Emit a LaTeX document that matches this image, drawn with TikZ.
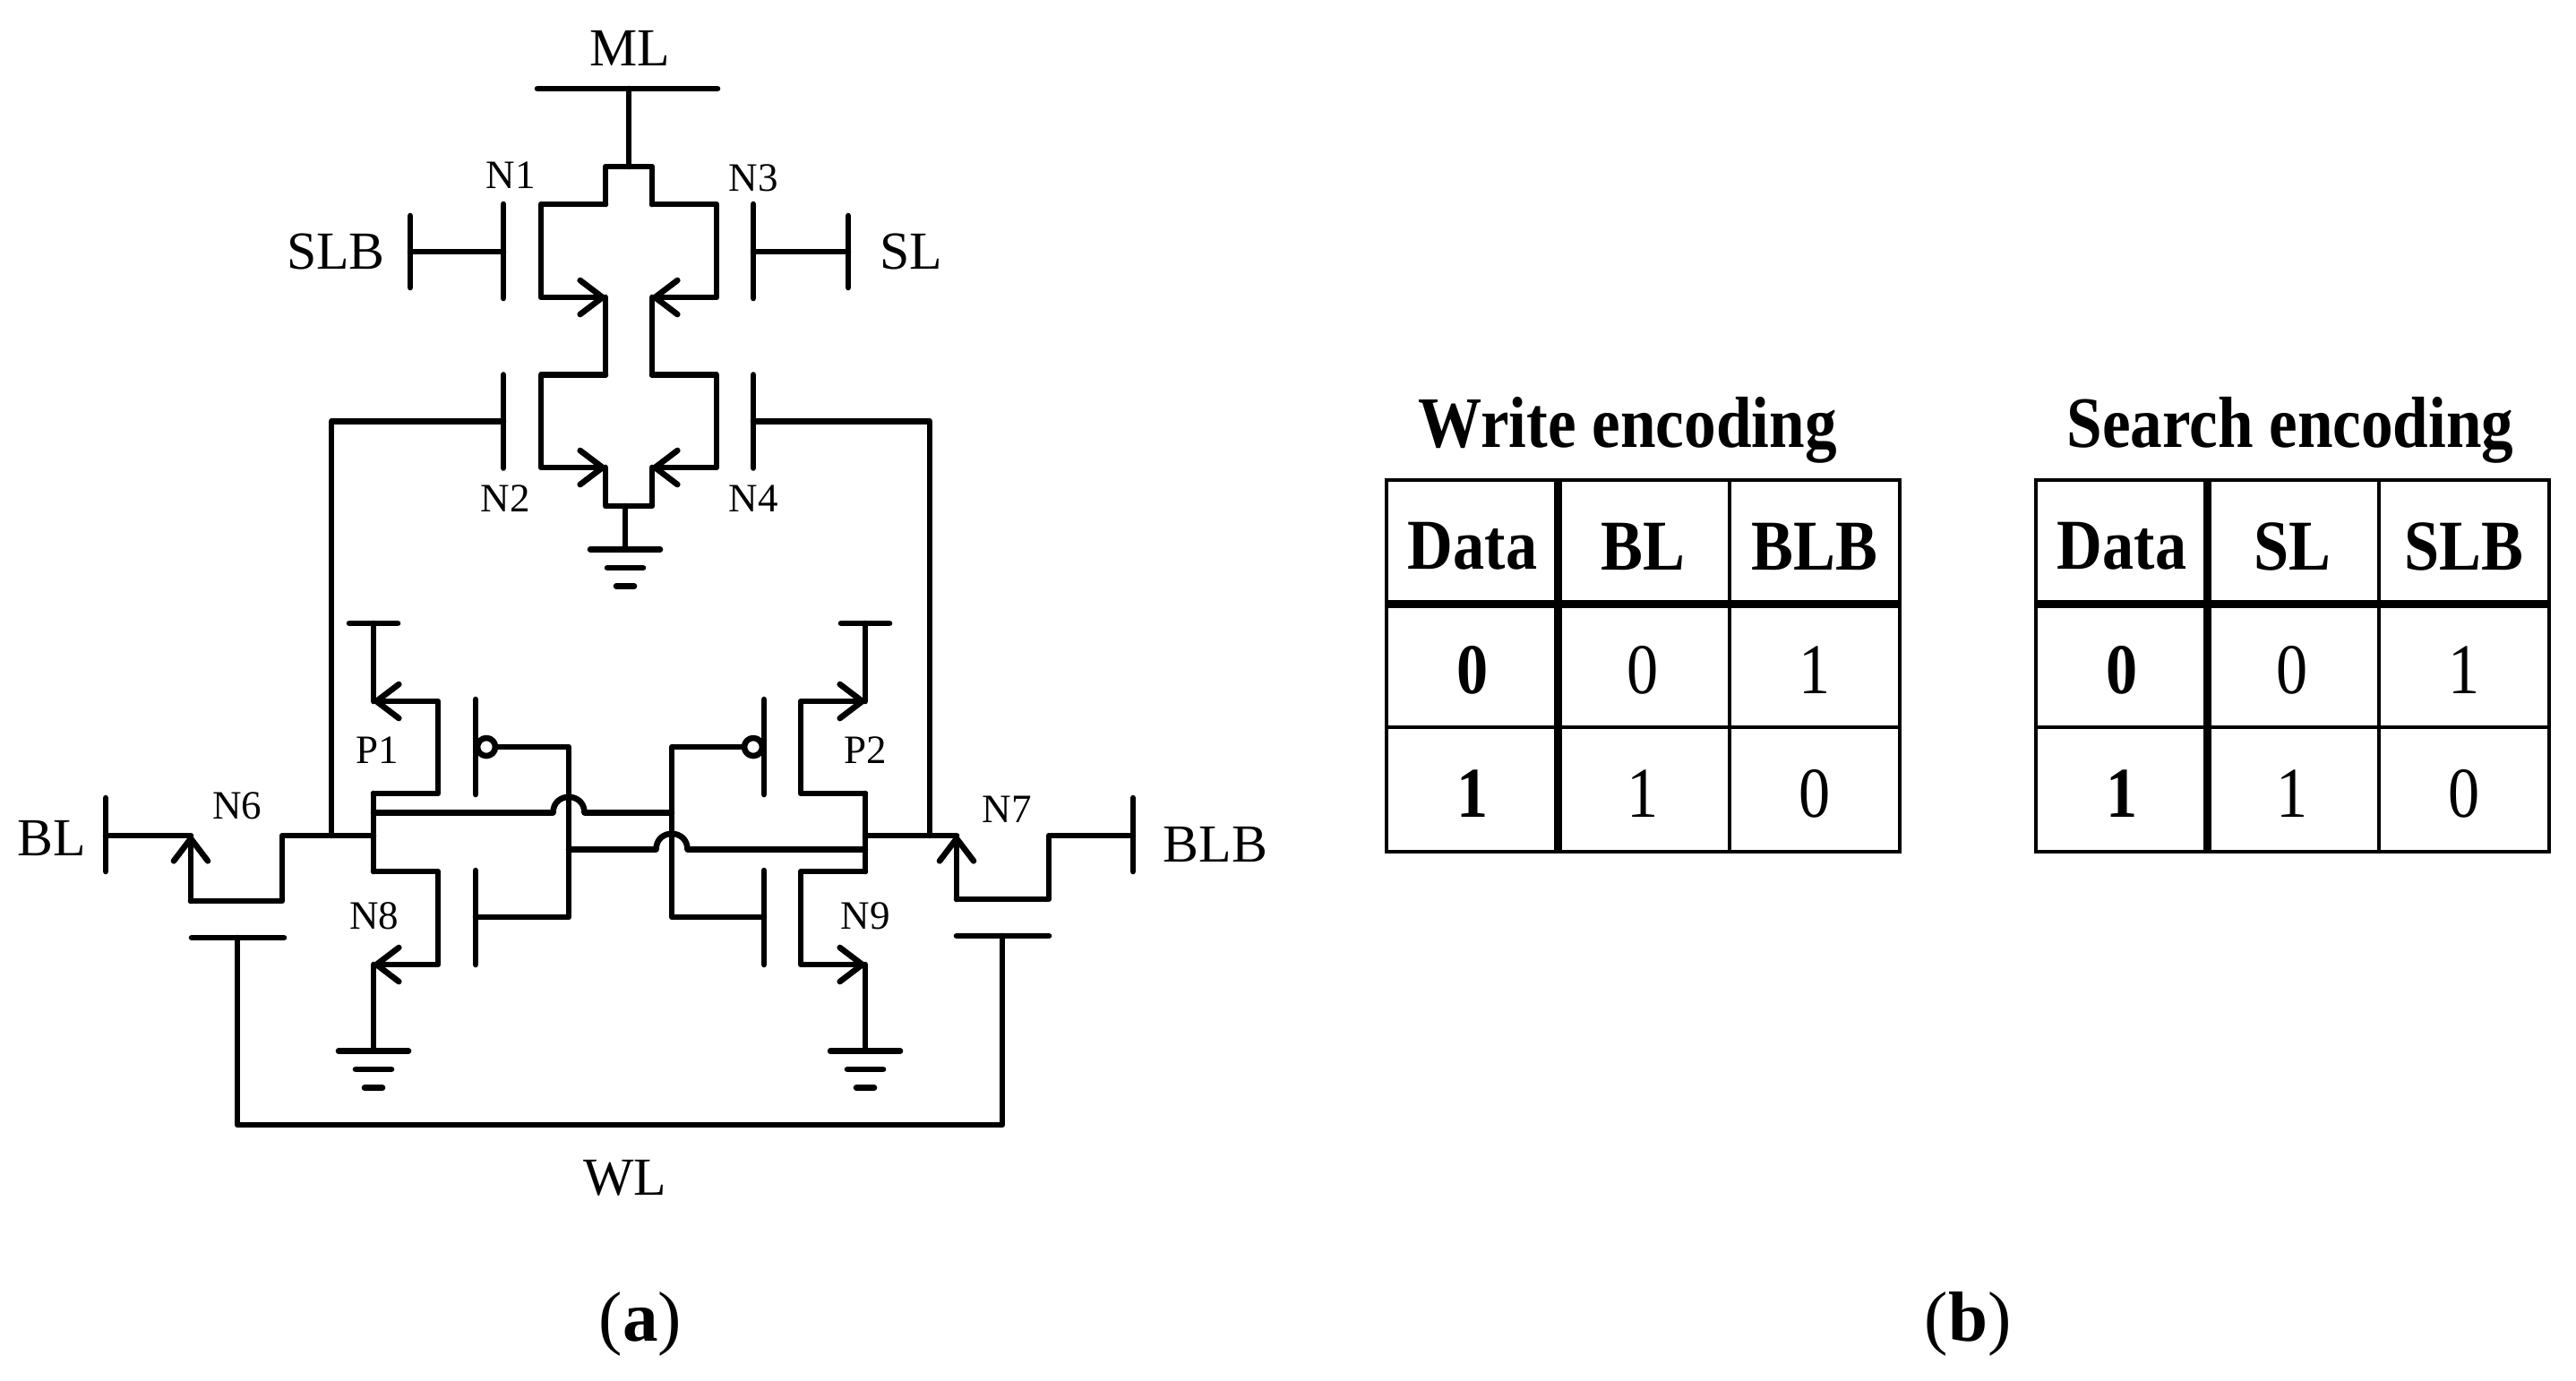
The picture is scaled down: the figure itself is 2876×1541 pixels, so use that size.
\documentclass[tikz,border=0pt]{standalone}
\usepackage{fontspec}
\setmainfont{Liberation Serif}
\newfontfamily\tabfont[FakeStretch=.88]{Liberation Serif}
\usetikzlibrary{arrows.meta}

\tikzset{
    wire/.style={line width=.066cm, line cap=round, line join=round},
    barb/.style={wire, -{Straight Barb[round, length=.25cm, width=.38cm, line width=.066cm]}},
    signal/.style={inner sep=0, font=\fontsize{17}{20}\selectfont},
    fetname/.style={inner sep=0, font=\fontsize{12.8}{15}\selectfont},
    caption/.style={inner sep=0, font=\fontsize{22.5}{26}\selectfont},
    tabtitle/.style={inner sep=0, anchor=base, font=\fontsize{23}{27}\selectfont\tabfont\bfseries},
    cell/.style={inner sep=0, font=\fontsize{22.7}{27}\selectfont\tabfont},
    boldcell/.style={inner sep=0, font=\fontsize{22.7}{27}\selectfont\tabfont\bfseries},
    rule/.style={line width=.045cm},
    boldrule/.style={line width=.09cm},
    bubble/.style={wire, draw, circle, inner sep=0, minimum size=.2cm},
    gnd/.pic={
        \draw[wire] (-39, 0) -- (39, 0);
        \draw[wire] (-20, 20.5) -- (20, 20.5);
        \draw[wire] (-10, 41) -- (10, 41);
    }
}

\begin{document}
\begin{tikzpicture}[x=.01cm, y=-.01cm]
    \useasboundingbox (0, 0) rectangle (2876, 1541);

    % search stack
    \path (703, 54) node[signal](ML){ML};
    \path (375, 281) node[signal](SLB){SLB};
    \path (1017, 281) node[signal](SL){SL};
    \path (570, 196) node[fetname](N1){N1};
    \path (841, 199) node[fetname](N3){N3};
    \path (564, 557) node[fetname](N2){N2};
    \path (841, 557) node[fetname](N4){N4};

    \coordinate (mlL) at (600, 99);
    \coordinate (mlR) at (801, 99);
    \coordinate (mlM) at (702, 99);
    \coordinate (mlT) at (702, 186);
    \coordinate (n1d) at (676, 228);
    \coordinate (n3d) at (728, 228);
    \coordinate (n1s) at (676, 332);
    \coordinate (n3s) at (728, 332);
    \coordinate (n2d) at (676, 418.5);
    \coordinate (n4d) at (728, 418.5);
    \coordinate (n2s) at (676, 522);
    \coordinate (n4s) at (728, 522);
    \coordinate (n1g) at (562, 281);
    \coordinate (n3g) at (841, 281);
    \coordinate (n2g) at (562, 470.5);
    \coordinate (n4g) at (841, 470.5);
    \coordinate (slbBar) at (458, 281);
    \coordinate (slBar) at (947, 281);
    \coordinate (stackG) at (698, 565);
    \coordinate (stackE) at (698, 613.5);

    \draw[wire] (mlL) -- (mlR);
    \draw[wire] (mlM) -- (mlT);
    \draw[wire] (n1d) |- (mlT) -| (n3d);
    \draw[barb] (n1d) -- ++(-72, 0) -- ++(0, 104) -- (n1s);
    \draw[barb] (n3d) -- ++(72, 0) -- ++(0, 104) -- (n3s);
    \draw[wire] (n1s) -- (n2d);
    \draw[wire] (n3s) -- (n4d);
    \draw[barb] (n2d) -- ++(-72, 0) -- ++(0, 103.5) -- (n2s);
    \draw[barb] (n4d) -- ++(72, 0) -- ++(0, 103.5) -- (n4s);
    \draw[wire] (n2s) |- (stackG) -| (n4s);
    \draw[wire] (stackG) -- (stackE);
    \path (stackE) pic {gnd};

    \draw[wire] (n1g) ++(0, -53) -- ++(0, 105);
    \draw[wire] (n3g) ++(0, -53) -- ++(0, 105);
    \draw[wire] (n2g) ++(0, -52) -- ++(0, 104);
    \draw[wire] (n4g) ++(0, -52) -- ++(0, 104);
    \draw[wire] (slbBar) ++(0, -40) -- ++(0, 80);
    \draw[wire] (slBar) ++(0, -40) -- ++(0, 80);
    \draw[wire] (slbBar) -- (n1g);
    \draw[wire] (slBar) -- (n3g);

    % latch
    \path (421, 838) node[fetname](P1){P1};
    \path (966, 838) node[fetname](P2){P2};
    \path (418, 1023) node[fetname](N8){N8};
    \path (966, 1023) node[fetname](N9){N9};
    \path (265, 900) node[fetname](N6){N6};
    \path (1124, 904) node[fetname](N7){N7};
    \path (58, 936) node[signal](BL){BL};
    \path (1357, 943) node[signal](BLB){BLB};
    \path (698, 1315) node[signal](WL){WL};

    \coordinate (vddL) at (417, 696);
    \coordinate (vddR) at (966, 696);
    \coordinate (p1s) at (417, 783);
    \coordinate (p2s) at (966, 783);
    \coordinate (qL) at (417, 886);
    \coordinate (qR) at (966, 886);
    \coordinate (n8d) at (417, 973);
    \coordinate (n9d) at (966, 973);
    \coordinate (n8s) at (417, 1077);
    \coordinate (n9s) at (966, 1077);
    \coordinate (gndL) at (417, 1173.5);
    \coordinate (gndR) at (966, 1173.5);
    \coordinate (nodeL) at (417, 933);
    \coordinate (nodeR) at (966, 933);
    \coordinate (blL) at (370, 933);
    \coordinate (blR) at (1038, 933);
    \coordinate (p1g) at (531, 834);
    \coordinate (p2g) at (853, 834);
    \coordinate (n8g) at (531, 1024);
    \coordinate (n9g) at (853, 1024);
    \coordinate (gateL) at (635, 834);
    \coordinate (gateR) at (750, 834);
    \coordinate (gateLb) at (635, 1024);
    \coordinate (gateRb) at (750, 1024);
    \path (543, 834) node[bubble](p1b){};
    \path (841, 834) node[bubble](p2b){};

    \draw[wire] (vddL) ++(-27, 0) -- ++(54, 0);
    \draw[wire] (vddR) ++(-27, 0) -- ++(54, 0);
    \draw[wire] (vddL) -- (p1s);
    \draw[wire] (vddR) -- (p2s);
    \draw[barb] (qL) -- ++(72, 0) -- ++(0, -103) -- (p1s);
    \draw[barb] (qR) -- ++(-72, 0) -- ++(0, -103) -- (p2s);
    \draw[barb] (n8d) -- ++(72, 0) -- ++(0, 104) -- (n8s);
    \draw[barb] (n9d) -- ++(-72, 0) -- ++(0, 104) -- (n9s);
    \draw[wire] (qL) -- (n8d);
    \draw[wire] (qR) -- (n9d);
    \draw[wire] (n8s) -- (gndL);
    \draw[wire] (n9s) -- (gndR);
    \path (gndL) pic {gnd};
    \path (gndR) pic {gnd};

    \draw[wire] (p1g) ++(0, -53) -- ++(0, 106);
    \draw[wire] (p2g) ++(0, -53) -- ++(0, 106);
    \draw[wire] (n8g) ++(0, -52) -- ++(0, 105);
    \draw[wire] (n9g) ++(0, -52) -- ++(0, 105);
    \draw[wire] (p1b) -- (gateL) -- (gateLb) -- (n8g);
    \draw[wire] (p2b) -- (gateR) -- (gateRb) -- (n9g);

    % cross coupling with hops
    \draw[wire] (417, 907.5) -- (617.5, 907.5)
        .. controls +(0, -23.5) and +(0, -23.5) .. (652.5, 907.5) -- (750, 907.5);
    \draw[wire] (635, 948.5) -- (732.5, 948.5)
        .. controls +(0, -23.5) and +(0, -23.5) .. (767.5, 948.5) -- (966, 948.5);

    % bit lines
    \coordinate (n6s) at (213, 933);
    \coordinate (n7s) at (1068, 933);
    \coordinate (n6g) at (265, 1047);
    \coordinate (n7g) at (1119, 1045);
    \coordinate (blBar) at (118, 933);
    \coordinate (blbBar) at (1265, 933);
    \coordinate (wlL) at (265, 1256);
    \coordinate (wlR) at (1119, 1256);

    \draw[wire] (blBar) ++(0, -42) -- ++(0, 82);
    \draw[wire] (blbBar) ++(0, -42) -- ++(0, 82);
    \draw[wire] (blBar) -- (n6s);
    \draw[wire] (blbBar) -- ++(-94, 0) -- ++(0, 71) -- ++(-103, 0) coordinate (n7b);
    \draw[barb] (n7b) -- (n7s);
    \draw[wire] (n7s) -- (nodeR);
    \draw[wire] (nodeL) -- ++(-102, 0) -- ++(0, 73) -- ++(-102, 0) coordinate (n6b);
    \draw[barb] (n6b) -- (n6s);
    \draw[wire] (n2g) -| (blL);
    \draw[wire] (n4g) -| (blR);
    \draw[wire] (n6g) ++(-51, 0) -- ++(103, 0);
    \draw[wire] (n7g) ++(-51, 0) -- ++(103, 0);
    \draw[wire] (n6g) -- (wlL) -- (wlR) -- (n7g);

    % encoding tables
    \foreach \tab/\ox/\titlex/\title/\hb/\hc in {w/0/1817/Write encoding/BL/BLB, s/725/1832/Search encoding/SL/SLB} {
        \begin{scope}[shift={(\ox, 0)}]
            \path (\titlex, 499) node[tabtitle](\tab title){\title};
            \path (1644, 610) node[boldcell](\tab head){Data};
            \path (1834, 610) node[boldcell](\tab b){\hb};
            \path (2026, 610) node[boldcell](\tab c){\hc};
            \path (1644, 748) node[boldcell](\tab r0){0};
            \path (1834, 748) node[cell](\tab r0b){0};
            \path (2026, 748) node[cell](\tab r0c){1};
            \path (1644, 886) node[boldcell](\tab r1){1};
            \path (1834, 886) node[cell](\tab r1b){1};
            \path (2026, 886) node[cell](\tab r1c){0};
            \draw[rule] (1548, 536) rectangle (2121, 951);
            \draw[rule] (1548, 812) -- (2121, 812);
            \draw[boldrule] (1548, 674) -- (2121, 674);
            \draw[boldrule] (1739, 536) -- (1739, 951);
            \draw[rule] (1931, 536) -- (1931, 951);
        \end{scope}
    }

    % sub captions
    \path (715, 1478) node[caption](capa){(\textbf{a})};
    \path (2197, 1478) node[caption](capb){(\textbf{b})};
\end{tikzpicture}
\end{document}
